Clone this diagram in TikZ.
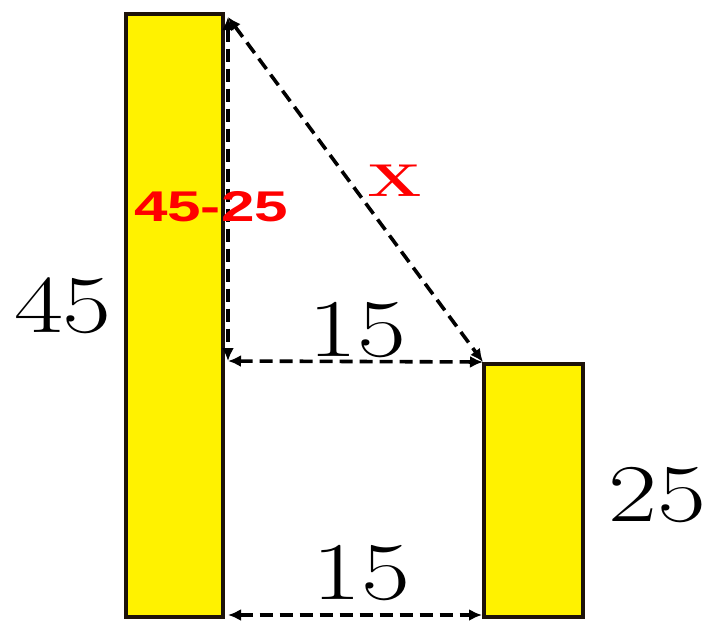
\documentclass[tikz,border=0pt]{standalone}
\usepackage{fontspec}
\usetikzlibrary{arrows.meta}
\newfontfamily\labelsans{Liberation Sans}
\tikzset{
  bar/.style={draw=black!85!brown, line width=3.2pt, fill=yellow},
  dim/.style={{Latex[length=13pt,width=12pt]}-{Latex[length=13pt,width=12pt]}, line width=3.6pt,
              dash pattern=on 13pt off 7pt},
  num/.style={font=\fontsize{82}{82}\selectfont, xscale=1.3, inner sep=0pt},
  redlbl/.style={text=red, inner sep=0pt, xscale=1.4},
}

\begin{document}
\begin{tikzpicture}[x=1pt, y=-1pt]
  \useasboundingbox (0,0) rectangle (710,627);

  % Bars
  \draw[bar] (126,14) rectangle (223,617);
  \draw[bar] (484,364) rectangle (583,617);

  % Corner points
  \coordinate (top)    at (228,17);
  \coordinate (corner) at (228,361);
  \coordinate (ledge)  at (483,362);
  \coordinate (botl)   at (228,615);
  \coordinate (botr)   at (482,615);

  % Dimensions
  \draw[dim] (top) -- (corner);
  \draw[dim] (top) -- (ledge);
  \draw[dim] (corner) -- (ledge);
  \draw[dim] (botl) -- (botr);

  % Labels
  \node[num] (h45) at (63,306) {45};
  \node[num] (h25) at (657,495) {25};
  \node[num] (w15a) at (357,330) {15};
  \node[num] (w15b) at (361,573) {15};
  \node[redlbl, font=\labelsans\bfseries\fontsize{43}{43}\selectfont] (diff) at (211,207) {45-25};
  \node[redlbl, font=\bfseries\fontsize{46}{46}\selectfont] (hyp) at (395,181) {X};
\end{tikzpicture}
\end{document}
